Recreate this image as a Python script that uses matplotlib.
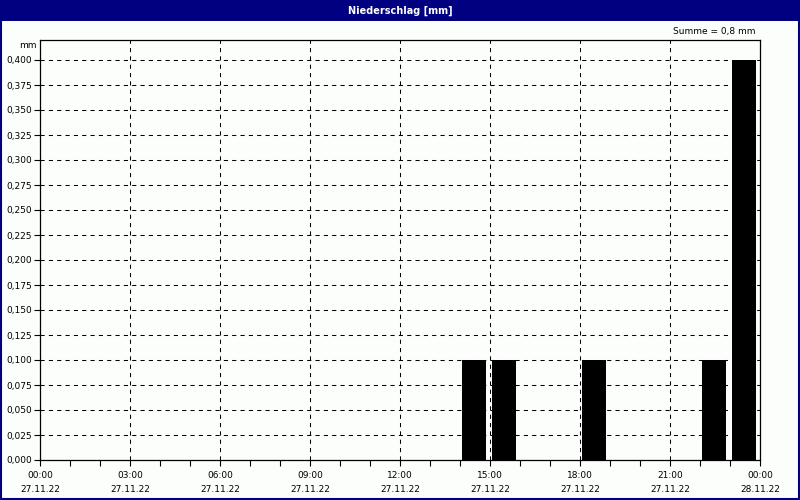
import matplotlib
matplotlib.use('Agg')
from datetime import datetime, timedelta
import numpy as np
import matplotlib.pyplot as plt
from matplotlib.patches import Rectangle
from matplotlib.ticker import FixedLocator, MultipleLocator, FuncFormatter

# data: precipitation per hour (hour of day where the interval starts)
start = datetime(2022, 11, 27, 0, 0)
hours = [14, 15, 18, 22, 23]
precip = [0.1, 0.1, 0.1, 0.1, 0.4]
summe = 0.8
xticks = [0, 3, 6, 9, 12, 15, 18, 21, 24]
yticks = np.arange(0, 0.401, 0.025)

navy = '#000080'
bg = '#fcfefc'
plt.rcParams['font.family'] = ['DejaVu Sans']

fig = plt.figure(figsize=(8, 5), dpi=100, facecolor=bg)
# title bar and frame
fig.patches.append(Rectangle((0, 0.958), 1, 0.042, transform=fig.transFigure,
                             facecolor=navy, edgecolor='none', zorder=0))
fig.patches.append(Rectangle((0.001, 0.002), 0.998, 0.996, transform=fig.transFigure,
                             facecolor='none', edgecolor=navy, linewidth=1.5, zorder=5))
fig.text(0.5, 0.979, 'Niederschlag [mm]', color='white', fontsize=7,
         fontweight='bold', ha='center', va='center')

ax = fig.add_axes([0.05, 0.08, 0.90, 0.84])
ax.set_facecolor(bg)
ax.bar([h + 0.067 for h in hours], precip, width=0.8, align='edge',
       color='black', zorder=3)
ax.set_xlim(0, 24)
ax.set_ylim(0, 0.42)

ax.xaxis.set_major_locator(FixedLocator(xticks))
ax.xaxis.set_minor_locator(MultipleLocator(1))
def xfmt(v, pos):
    t = start + timedelta(hours=float(v))
    return t.strftime('%H:%M') + '\n' + t.strftime('%d.%m.%y')
ax.xaxis.set_major_formatter(FuncFormatter(xfmt))
ax.yaxis.set_major_locator(FixedLocator(yticks))
ax.yaxis.set_major_formatter(FuncFormatter(lambda v, p: ('%.3f' % v).replace('.', ',')))

ax.tick_params(axis='both', which='both', direction='out', labelsize=6.5,
               color='black', width=0.8)
ax.tick_params(axis='x', which='major', length=4, pad=4)
ax.tick_params(axis='x', which='minor', length=4)
ax.tick_params(axis='y', length=4, pad=2)
for lbl in ax.get_xticklabels():
    lbl.set_linespacing(1.75)

ax.grid(True, which='major', color='black', linestyle=(0, (4, 4)), linewidth=0.75)
ax.set_axisbelow(True)
for s in ax.spines.values():
    s.set_linewidth(0.9)
    s.set_color('black')

fig.text(0.046, 0.91, 'mm', fontsize=6.5, ha='right', va='center')
fig.text(0.944, 0.937, 'Summe = ' + ('%.1f' % summe).replace('.', ',') + ' mm',
         fontsize=6.5, ha='right', va='center')

plt.savefig('out.png', dpi=100, facecolor=bg)
